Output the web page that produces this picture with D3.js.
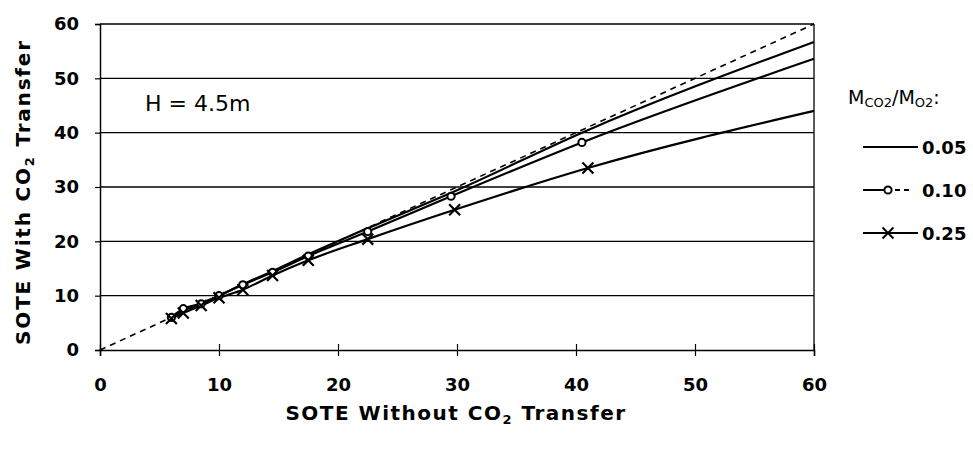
<!DOCTYPE html>
<html><head><meta charset="utf-8">
<script src="https://cdn.jsdelivr.net/npm/d3@7"></script>
<style>body{margin:0;background:#fff}svg{font-family:"DejaVu Sans",sans-serif}</style>
</head><body><svg id="c" width="973" height="450"></svg>
<script>
const xTicks = [0,10,20,30,40,50,60];
const yTicks = [0,10,20,30,40,50,60];
const seriesNames = ["0.05","0.10","0.25"];
const xs05 = [6,7,8.5,10,12,14.5,17.5,22.5,30,40.5,60];
const ys05 = [6,7.2,8.6,10,12.1,14.5,17.6,22.4,29.4,40,56.7];
const xs10 = [6,7,8.5,10,12,14.5,17.5,22.5,29.5,40.5,60];
const ys10 = [6,7.6,8.5,10,12,14.3,17.3,21.8,28.3,38.2,53.6];
const xs25 = [6,7,8.5,10,12,14.5,17.5,22.5,29.8,41,60];
const ys25 = [5.8,6.8,8.2,9.6,11.1,13.7,16.5,20.4,25.8,33.5,44.0];
const oneToOne = [[0,0],[60,60]];

const svg = d3.select("#c");
const x = d3.scaleLinear().domain([0,60]).range([100,814]);
const y = d3.scaleLinear().domain([0,60]).range([350,24]);
const FONT = "'DejaVu Sans',sans-serif";

svg.append("g").selectAll("line").data(yTicks.filter(d=>d>0)).join("line")
  .attr("x1",x(0)).attr("x2",x(60)).attr("y1",d=>y(d)).attr("y2",d=>y(d))
  .attr("stroke","#000").attr("stroke-width",1.3);
svg.append("line").attr("x1",x(60)).attr("x2",x(60)).attr("y1",y(0)).attr("y2",y(60)).attr("stroke","#000").attr("stroke-width",1.3);

const xa = svg.append("g").attr("transform",`translate(0,${y(0)})`)
  .call(d3.axisBottom(x).tickValues(xTicks).tickSize(6).tickPadding(22));
const ya = svg.append("g").attr("transform",`translate(${x(0)},0)`)
  .call(d3.axisLeft(y).tickValues(yTicks).tickSize(5).tickPadding(16));
[xa,ya].forEach(a=>{
  a.select(".domain").attr("stroke","#000").attr("stroke-width",1.5);
  a.selectAll(".tick line").attr("stroke","#000").attr("stroke-width",1.2);
  a.selectAll("text").attr("font-size",18).attr("font-weight","bold").attr("fill","#000")
   .attr("font-family",FONT);
});
xa.selectAll(".tick line").attr("y1",-6).attr("y2",6);

const line = d3.line().x(d=>x(d[0])).y(d=>y(d[1])).curve(d3.curveMonotoneX);
const g = svg.append("g");
g.append("path").attr("d",line(oneToOne)).attr("fill","none").attr("stroke","#000")
  .attr("stroke-width",1.6).attr("stroke-dasharray","6,5");
const data = [d3.zip(xs05,ys05), d3.zip(xs10,ys10), d3.zip(xs25,ys25)];
data.forEach(s=>{
  g.append("path").attr("d",line(s)).attr("fill","none").attr("stroke","#000").attr("stroke-width",2.2);
});
g.append("g").selectAll("circle").data(data[1].slice(0,10)).join("circle")
  .attr("cx",d=>x(d[0])).attr("cy",d=>y(d[1])).attr("r",3.6)
  .attr("fill","#fff").attr("stroke","#000").attr("stroke-width",2);
const cross = d3.symbol().type(d3.symbolX).size(80);
g.append("g").selectAll("path").data(data[2].slice(0,10)).join("path")
  .attr("d",cross).attr("transform",d=>`translate(${x(d[0])},${y(d[1])})`)
  .attr("fill","none").attr("stroke","#000").attr("stroke-width",2.2);

svg.append("text").attr("x",145).attr("y",111).attr("font-size",22).text("H = 4.5m");

const xt = svg.append("text").attr("x",456).attr("y",420).attr("text-anchor","middle")
  .attr("font-size",20).attr("font-weight","bold").attr("letter-spacing",1.5);
xt.append("tspan").text("SOTE Without CO");
xt.append("tspan").attr("font-size",13).attr("dy",4).text("2");
xt.append("tspan").attr("dy",-4).text(" Transfer");
const yt = svg.append("text").attr("transform","translate(30,192) rotate(-90)").attr("text-anchor","middle")
  .attr("font-size",20).attr("font-weight","bold").attr("letter-spacing",1.8);
yt.append("tspan").text("SOTE With CO");
yt.append("tspan").attr("font-size",13).attr("dy",4).text("2");
yt.append("tspan").attr("dy",-4).text(" Transfer");

const lt = svg.append("text").attr("x",848).attr("y",104).attr("font-size",19);
lt.append("tspan").text("M");
lt.append("tspan").attr("font-size",13).attr("dy",3).text("CO2");
lt.append("tspan").attr("dy",-3).text("/M");
lt.append("tspan").attr("font-size",13).attr("dy",3).text("O2");
lt.append("tspan").attr("dy",-3).text(":");
const lg = svg.append("g").selectAll("g").data(seriesNames).join("g")
  .attr("transform",(d,i)=>`translate(863,${147+i*43})`);
lg.append("line").attr("x1",0).attr("x2",55).attr("stroke","#000").attr("stroke-width",1.8)
  .attr("stroke-dasharray",(d,i)=>i===1?"28,4,5,4,5":null);
lg.append("text").attr("x",59).attr("y",7).attr("font-size",18).attr("font-weight","bold").text(d=>d);
lg.filter((d,i)=>i===1).append("circle").attr("cx",25).attr("cy",0).attr("r",3.6)
  .attr("fill","#fff").attr("stroke","#000").attr("stroke-width",2);
lg.filter((d,i)=>i===2).append("path").attr("d",cross).attr("transform","translate(25,0)")
  .attr("fill","none").attr("stroke","#000").attr("stroke-width",2);
</script></body></html>
